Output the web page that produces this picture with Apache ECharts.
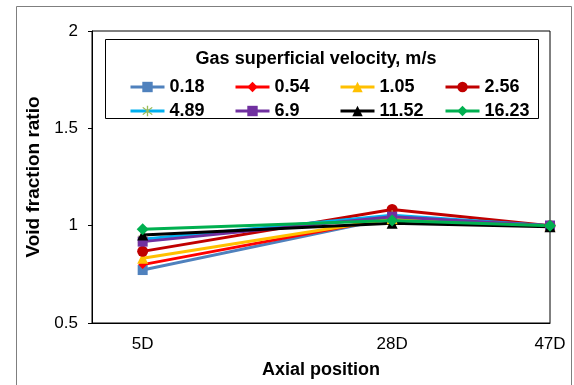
<!DOCTYPE html>
<html>
<head>
<meta charset="utf-8" />
<title>Void fraction ratio</title>
<script src="https://cdn.jsdelivr.net/npm/echarts@6/dist/echarts.min.js"></script>
</head>
<body style="margin:0">
<div id="main" style="width:574px;height:385px"></div>
<script>
// axial positions and where they sit on the axis
var positions = ["5D", "28D", "47D"];
var positionX = [5.2, 30.8, 47];

// gas superficial velocity, m/s
var velocities = ["0.18", "0.54", "1.05", "2.56", "4.89", "6.9", "11.52", "16.23"];

// void fraction ratio at 5D, 28D, 47D
var ratio018 = [0.772, 1.04, 1.0];
var ratio054 = [0.80, 1.04, 1.0];
var ratio105 = [0.833, 1.035, 1.0];
var ratio256 = [0.868, 1.083, 1.0];
var ratio489 = [0.93, 1.053, 1.0];
var ratio69 = [0.918, 1.046, 1.0];
var ratio1152 = [0.952, 1.012, 0.995];
var ratio1623 = [0.982, 1.027, 1.0];

var ratios = [ratio018, ratio054, ratio105, ratio256, ratio489, ratio69, ratio1152, ratio1623];

var star = "path://M9,0h2v20h-2z M2.2,3.6l1.4,-1.4l14.2,14.2l-1.4,1.4z M16.4,2.2l1.4,1.4l-14.2,14.2l-1.4,-1.4z";
var lineColors = ["#4f81bd", "#ff0000", "#ffc000", "#c00000", "#00b0f0", "#7030a0", "#000000", "#00b050"];
var markColors = ["#4f81bd", "#ff0000", "#ffc000", "#c00000", "#9bbb59", "#7030a0", "#000000", "#00b050"];
var symbols = ["rect", "diamond", "triangle", "circle", star, "rect", "triangle", "diamond"];
var sizes = [10, 9, 11, 11, 10, 10, 11, 12];

var font = "Liberation Sans";
var myChart = echarts.init(document.getElementById("main"));

var series = velocities.map(function (name, i) {
  return {
    name: name,
    type: "line",
    data: positionX.map(function (x, j) { return [x, ratios[i][j]]; }),
    symbol: symbols[i],
    symbolSize: sizes[i],
    lineStyle: { width: 3, color: lineColors[i] },
    itemStyle: { color: markColors[i] },
    emphasis: { disabled: true },
  };
});

// one legend per entry so the 4 columns line up like the original
var legends = velocities.map(function (name, i) {
  return {
    data: [name],
    left: 124 + 105 * (i % 4),
    top: 73 + 24 * Math.floor(i / 4),
    itemWidth: 34,
    itemHeight: 13,
    selectedMode: false,
    lineStyle: { width: 3 },
    textStyle: { fontFamily: font, fontSize: 18, fontWeight: "bold", color: "#000" },
  };
});

option = {
  animation: false,
  backgroundColor: "#fff",
  grid: { left: 92, right: 24, top: 31, bottom: 62, show: true, borderColor: "#000", borderWidth: 1 },
  legend: legends,
  graphic: [
    { type: "rect", shape: { x: 16.5, y: 6.5, width: 555, height: 400 }, style: { fill: "none", stroke: "#7f7f7f", lineWidth: 1 } },
    { type: "rect", shape: { x: 105.5, y: 39.5, width: 433, height: 79 }, style: { fill: "none", stroke: "#000", lineWidth: 1 } },
    {
      type: "text", x: 316, y: 59,
      style: { text: "Gas superficial velocity, m/s", font: "bold 18px " + font, fill: "#000", textAlign: "center", textVerticalAlign: "middle" },
    },
  ],
  xAxis: {
    type: "value",
    min: 0,
    max: 47,
    splitLine: { show: false },
    axisTick: { show: false },
    axisLine: { lineStyle: { color: "#000" } },
    axisLabel: {
      customValues: positionX,
      formatter: function (v) {
        var k = 0;
        positionX.forEach(function (x, j) { if (Math.abs(x - v) < Math.abs(positionX[k] - v)) k = j; });
        return positions[k];
      },
      fontFamily: font, fontSize: 17, color: "#000", margin: 13,
    },
    name: "Axial position",
    nameLocation: "middle",
    nameGap: 38,
    nameTextStyle: { fontFamily: font, fontSize: 18, fontWeight: "bold", color: "#000" },
  },
  yAxis: {
    type: "value",
    min: 0.5,
    max: 2,
    interval: 0.5,
    splitLine: { show: false },
    axisLine: { show: true, lineStyle: { color: "#000" } },
    axisTick: { show: true, length: 4, lineStyle: { color: "#000" } },
    axisLabel: { fontFamily: font, fontSize: 17, color: "#000", margin: 14 },
    name: "Void fraction ratio",
    nameLocation: "middle",
    nameGap: 47,
    nameTextStyle: { fontFamily: font, fontSize: 19, fontWeight: "bold", color: "#000" },
  },
  series: series,
};

myChart.setOption(option);
</script>
</body>
</html>
